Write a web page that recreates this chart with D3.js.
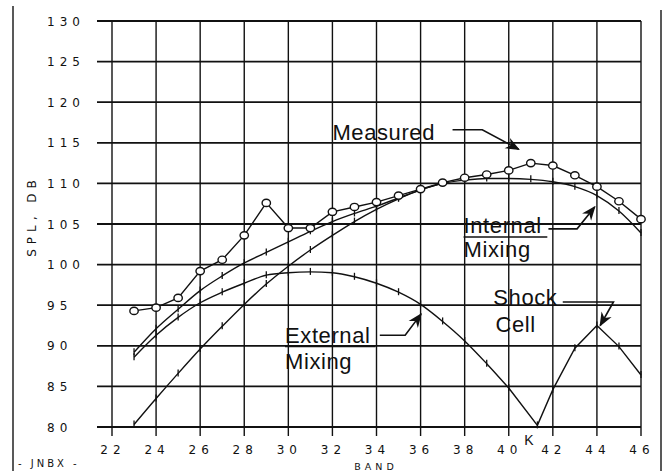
<!DOCTYPE html>
<html>
<head>
<meta charset="utf-8">
<script src="https://cdn.jsdelivr.net/npm/d3@7"></script>
<style>
  html, body { margin: 0; padding: 0; background: #fff; }
  svg { display: block; }
</style>
</head>
<body>
<div id="chart"></div>
<script>
// data
const bands = [23, 24, 25, 26, 27, 28, 29, 30, 31, 32, 33, 34, 35, 36, 37, 38, 39, 40, 41, 42, 43, 44, 45, 46];
const measured = [94.3, 94.7, 95.9, 99.2, 100.6, 103.6, 107.6, 104.5, 104.5, 106.5, 107.1, 107.7, 108.5, 109.3, 110.1, 110.7, 111.1, 111.6, 112.5, 112.2, 111.0, 109.6, 107.8, 105.6];
const predicted = [89.2, 92.1, 94.5, 96.8, 98.6, 100.2, 101.5, 102.8, 104.1, 105.3, 106.3, 107.2, 108.2, 109.2, 110.0, 110.4, 110.6, 110.6, 110.5, 110.2, 109.6, 108.5, 106.6, 103.9];
const internalBands = [23, 24, 25, 26, 27, 28, 29, 30, 31, 32, 33, 34, 35, 36, 37];
const internal = [80.3, 83.5, 86.6, 89.6, 92.4, 95.1, 97.6, 99.8, 101.8, 103.6, 105.3, 106.8, 108.1, 109.2, 110.0];
const externalBands = [23, 24, 25, 26, 27, 28, 29, 30, 31, 32, 33, 34, 35, 36, 37, 38, 39, 40];
const external = [88.6, 91.3, 93.5, 95.3, 96.6, 97.7, 98.7, 99.0, 99.1, 99.0, 98.5, 97.7, 96.6, 95.1, 93.0, 90.6, 87.8, 84.8];
const shockBands = [40, 41.3, 42, 43, 44, 45, 46];
const shock = [84.8, 80.2, 84.6, 89.7, 92.5, 89.9, 86.4];
const yTicks = [80, 85, 90, 95, 100, 105, 110, 115, 120, 125, 130];
const xTicks = [22, 24, 26, 28, 30, 32, 34, 36, 38, 40, 42, 44, 46];

const W = 668, H = 471;
const svg = d3.select('#chart').append('svg').attr('width', W).attr('height', H);

const x = d3.scaleLinear().domain([22, 46]).range([112, 641]);
const y = d3.scaleLinear().domain([80, 130]).range([427, 21]);
const xLeft = 97;

// outer frame (left / right rules of the page)
svg.append('line').attr('x1', 13).attr('x2', 13).attr('y1', 6).attr('y2', H)
  .attr('stroke', '#222').attr('stroke-width', 1.5);
svg.append('line').attr('x1', 661).attr('x2', 661).attr('y1', 10).attr('y2', H)
  .attr('stroke', '#222').attr('stroke-width', 1.5);

// grid
const grid = svg.append('g').attr('stroke', '#111');
grid.selectAll('line.h').data(yTicks).join('line')
  .attr('x1', xLeft).attr('x2', x(46))
  .attr('y1', d => y(d)).attr('y2', d => y(d))
  .attr('stroke-width', 1.8);
grid.selectAll('line.v').data(xTicks).join('line')
  .attr('x1', d => x(d)).attr('x2', d => x(d))
  .attr('y1', y(130)).attr('y2', y(80) + 9)
  .attr('stroke-width', 1.4);

// tick labels
const tickFont = '"DejaVu Sans", sans-serif';
svg.selectAll('text.yt').data(yTicks).join('text')
  .attr('x', 47).attr('y', d => y(d) + 4.5)
  .attr('font-family', tickFont).attr('font-size', 12)
  .attr('letter-spacing', 5).attr('fill', '#111')
  .text(d => d);
svg.selectAll('text.xt').data(xTicks).join('text')
  .attr('x', d => x(d) + 1).attr('y', 454)
  .attr('text-anchor', 'middle')
  .attr('font-family', tickFont).attr('font-size', 12)
  .attr('letter-spacing', 5).attr('fill', '#111')
  .text(d => d);

// axis titles
svg.append('text')
  .attr('transform', 'translate(36,216) rotate(-90)')
  .attr('text-anchor', 'middle')
  .attr('font-family', tickFont).attr('font-size', 12)
  .attr('letter-spacing', 5).attr('fill', '#111')
  .text('SPL, DB');
svg.append('text')
  .attr('x', 376).attr('y', 470).attr('text-anchor', 'middle')
  .attr('font-family', tickFont).attr('font-size', 9.5)
  .attr('letter-spacing', 4).attr('fill', '#111')
  .text('BAND');
svg.append('text')
  .attr('x', 18).attr('y', 467)
  .attr('font-family', tickFont).attr('font-size', 10)
  .attr('letter-spacing', 3).attr('fill', '#111')
  .text('- JNBX -');

// curves
const smooth = d3.line().x(d => x(d[0])).y(d => y(d[1])).curve(d3.curveMonotoneX);
const straight = d3.line().x(d => x(d[0])).y(d => y(d[1]));
const zip = (xs, ys) => xs.map((b, i) => [b, ys[i]]);

const curves = svg.append('g').attr('fill', 'none').attr('stroke', '#111').attr('stroke-width', 1.4);
curves.append('path').attr('d', smooth(zip(bands, predicted)));
curves.append('path').attr('d', smooth(zip(internalBands, internal)));
curves.append('path').attr('d', smooth(zip(externalBands, external)));
curves.append('path').attr('d', straight(zip(shockBands, shock)));
curves.append('path').attr('d', straight(zip(bands, measured)));

// small tick marks on predicted curves
const tickPts = [].concat(zip(bands, predicted), zip(internalBands, internal),
  zip(externalBands, external), zip(shockBands.slice(1), shock.slice(1)));
svg.append('g').selectAll('line').data(tickPts).join('line')
  .attr('x1', d => x(d[0])).attr('x2', d => x(d[0]))
  .attr('y1', d => y(d[1]) - 4).attr('y2', d => y(d[1]) + 3)
  .attr('stroke', '#111').attr('stroke-width', 1.3);

// measured circles
svg.append('g').selectAll('ellipse').data(zip(bands, measured)).join('ellipse')
  .attr('cx', d => x(d[0])).attr('cy', d => y(d[1]))
  .attr('rx', 4.2).attr('ry', 3.6)
  .attr('fill', '#fff').attr('stroke', '#111').attr('stroke-width', 1.4);

// annotations
const labFont = '"Liberation Sans", Arial, sans-serif';
const labels = [
  { t: 'Measured', b: 32, v: 115.3 },
  { t: 'Internal', b: 37.95, v: 103.9, u: 41.75 },
  { t: 'Mixing', b: 37.95, v: 100.9 },
  { t: 'External', b: 29.85, v: 90.4, u: 33.95 },
  { t: 'Mixing', b: 29.85, v: 87.1 },
  { t: 'Shock', b: 39.3, v: 95.0 },
  { t: 'Cell', b: 39.4, v: 91.7 }
];
const ann = svg.append('g');
labels.forEach(d => {
  ann.append('text')
    .attr('x', x(d.b)).attr('y', y(d.v))
    .attr('font-family', labFont).attr('font-size', 22)
    .attr('letter-spacing', 0.6)
    .attr('fill', '#111')
    .text(d.t);
  if (d.u) {
    ann.append('line')
      .attr('x1', x(d.b)).attr('x2', x(d.u))
      .attr('y1', y(d.v) + 4).attr('y2', y(d.v) + 4)
      .attr('stroke', '#111').attr('stroke-width', 1.6);
  }
});
ann.append('text')
  .attr('x', x(40.92)).attr('y', y(77.8)).attr('text-anchor', 'middle')
  .attr('font-family', labFont).attr('font-size', 14).attr('fill', '#111')
  .text('K');

// leader arrows
svg.append('defs').append('marker')
  .attr('id', 'ah').attr('viewBox', '0 0 10 10')
  .attr('refX', 9).attr('refY', 5)
  .attr('markerWidth', 9).attr('markerHeight', 9)
  .attr('orient', 'auto-start-reverse')
  .append('path').attr('d', 'M0,1 L10,5 L0,9 L3,5 Z').attr('fill', '#111');
const arrows = [
  [[37.45, 116.6], [38.8, 116.6], [40.45, 114.2]],
  [[41.8, 104.4], [43.1, 104.4], [43.9, 107.1]],
  [[34.15, 91.3], [35.3, 91.3], [36.02, 93.9]],
  [[42.45, 95.4], [44.75, 95.4], [44.15, 92.5]]
];
svg.append('g').selectAll('path').data(arrows).join('path')
  .attr('d', straight)
  .attr('fill', 'none').attr('stroke', '#111').attr('stroke-width', 1.6)
  .attr('marker-end', 'url(#ah)');
</script>
</body>
</html>
